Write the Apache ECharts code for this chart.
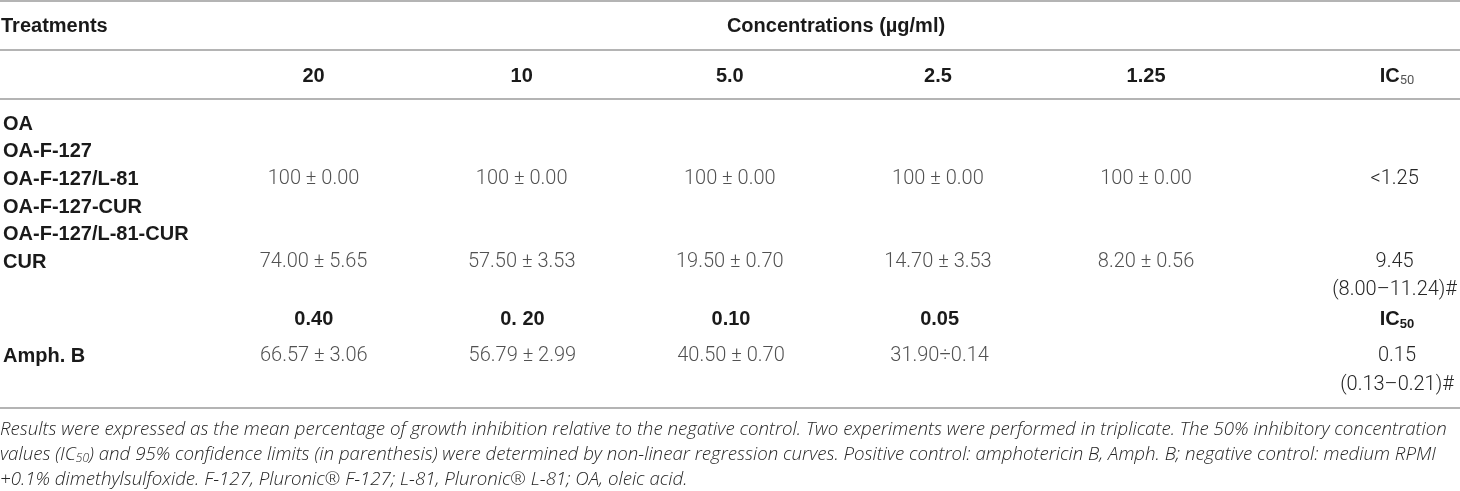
<!DOCTYPE html>
<html>
<head>
<meta charset="utf-8">
<script src="https://cdn.jsdelivr.net/npm/echarts@6/dist/echarts.min.js"></script>
<style>
  html, body { margin: 0; padding: 0; background: #fff; }
  #chart { width: 1460px; height: 491px; }
</style>
</head>
<body>
<div id="chart"></div>
<script>
// table values
const concentrations = ['20', '10', '5.0', '2.5', '1.25']
const treatments = ['OA', 'OA-F-127', 'OA-F-127/L-81', 'OA-F-127-CUR', 'OA-F-127/L-81-CUR', 'CUR']
const groupInhibition = ['100 ± 0.00', '100 ± 0.00', '100 ± 0.00', '100 ± 0.00', '100 ± 0.00']
const groupIC50 = '<1.25'
const curInhibition = ['74.00 ± 5.65', '57.50 ± 3.53', '19.50 ± 0.70', '14.70 ± 3.53', '8.20 ± 0.56']
const curIC50 = ['9.45', '(8.00–11.24)#']
const amphConcentrations = ['0.40', '0. 20', '0.10', '0.05']
const amphInhibition = ['66.57 ± 3.06', '56.79 ± 2.99', '40.50 ± 0.70', '31.90÷0.14']
const amphIC50 = ['0.15', '(0.13–0.21)#']
const footnote = [
  'Results were expressed as the mean percentage of growth inhibition relative to the negative control. Two experiments were performed in triplicate. The 50% inhibitory concentration',
  'values (IC{sub|50}) and 95% confidence limits (in parenthesis) were determined by non-linear regression curves. Positive control: amphotericin B, Amph. B; negative control: medium RPMI',
  '+0.1% dimethylsulfoxide. F-127, Pluronic® F-127; L-81, Pluronic® L-81; OA, oleic acid.'
]

const BOLD = 'Liberation Sans'
const LIGHT = 'Roboto'
const NOTE = 'Open Sans'
const INK = '#1a1a1a'
const SOFT = '#262626'
const RULE = '#b4b4b4'

// the five formulations share one result line, written on their middle row
const groupTreatments = treatments.slice(0, 5)
const groupRow = groupTreatments[Math.floor(groupTreatments.length / 2)]
const curRow = treatments[treatments.length - 1]

const rowsA = [...treatments, '']
const ic50A = rowsA.map((t) => t === groupRow ? groupIC50 : '')
ic50A[treatments.length - 1] = curIC50[0]
ic50A[treatments.length] = curIC50[1]

const rowsC = ['Amph. B', '']

const colLeft = 207.5
const colWidth = 1045

const rowLabel = {
  interval: 0, align: 'left', margin: colLeft - 1,
  fontFamily: BOLD, fontWeight: 'bold', fontSize: 20, color: INK
}
const ic50Label = {
  interval: 0, align: 'center', margin: 144.5,
  fontFamily: LIGHT, fontWeight: 300, fontSize: 20, color: SOFT
}
const headLabel = (margin) => ({
  interval: 0, margin: margin, verticalAlign: 'middle',
  fontFamily: BOLD, fontWeight: 'bold', fontSize: 20, color: INK
})
const hidden = { axisLine: { show: false }, axisTick: { show: false }, splitLine: { show: false } }

const cellSeries = (xi, yi, data) => ({
  type: 'scatter',
  xAxisIndex: xi,
  yAxisIndex: yi,
  symbolSize: 1,
  itemStyle: { color: 'rgba(0,0,0,0)' },
  silent: true,
  data: data,
  label: {
    show: true, position: 'inside',
    formatter: (p) => p.value[2],
    fontFamily: LIGHT, fontWeight: 300, fontSize: 20, color: SOFT
  }
})

const rule = (y) => ({
  type: 'line', silent: true,
  shape: { x1: 0, y1: y, x2: 1460, y2: y },
  style: { stroke: RULE, lineWidth: 1.8 }
})

const ic50Head = (y, subBold) => ({
  type: 'text', x: 1397, y: y, silent: true,
  style: {
    text: '{b|IC}{s|50}', align: 'center', verticalAlign: 'middle',
    rich: {
      b: { fontFamily: BOLD, fontWeight: 'bold', fontSize: 20, fill: INK },
      s: { fontFamily: subBold ? BOLD : LIGHT, fontWeight: subBold ? 'bold' : 400, fontSize: 13, fill: subBold ? INK : '#555', padding: [10, 0, 0, 0] }
    }
  }
})

const chart = echarts.init(document.getElementById('chart'))
chart.setOption({
  animation: false,
  grid: [
    { left: colLeft, width: colWidth, top: 110.2, height: 193.7 },
    { left: colLeft, width: colWidth, top: 341.5, height: 58 }
  ],
  xAxis: [
    { type: 'category', gridIndex: 0, position: 'top', data: concentrations, axisLabel: headLabel(34.2), ...hidden },
    { type: 'category', gridIndex: 1, position: 'top', data: [...amphConcentrations, ''], axisLabel: headLabel(22.5), ...hidden }
  ],
  yAxis: [
    { type: 'category', gridIndex: 0, inverse: true, data: rowsA, axisLabel: rowLabel, ...hidden },
    { type: 'category', gridIndex: 0, inverse: true, position: 'right', data: ic50A, axisLabel: ic50Label, ...hidden },
    { type: 'category', gridIndex: 1, inverse: true, data: rowsC, axisLabel: rowLabel, ...hidden },
    { type: 'category', gridIndex: 1, inverse: true, position: 'right', data: amphIC50, axisLabel: ic50Label, ...hidden }
  ],
  series: [
    cellSeries(0, 0, concentrations.map((c, i) => [c, groupRow, groupInhibition[i]])),
    cellSeries(0, 0, concentrations.map((c, i) => [c, curRow, curInhibition[i]])),
    cellSeries(1, 2, amphConcentrations.map((c, i) => [c, rowsC[0], amphInhibition[i]]))
  ],
  graphic: [
    rule(1), rule(50), rule(99), rule(408),
    {
      type: 'text', x: 1, y: 26, silent: true,
      style: { text: 'Treatments', verticalAlign: 'middle', fontFamily: BOLD, fontWeight: 'bold', fontSize: 20, fill: INK }
    },
    {
      type: 'text', x: 836, y: 26, silent: true,
      style: { text: 'Concentrations (µg/ml)', align: 'center', verticalAlign: 'middle', fontFamily: BOLD, fontWeight: 'bold', fontSize: 20, fill: INK }
    },
    ic50Head(76, false),
    ic50Head(319, true),
    ...footnote.map((line, i) => ({
      type: 'text', x: 0, y: 430 + i * 25, silent: true,
      style: {
        text: line,
        verticalAlign: 'middle',
        fontFamily: NOTE, fontStyle: 'italic', fontWeight: 300, fontSize: 18.7, fill: SOFT,
        rich: {
          sub: { fontFamily: NOTE, fontStyle: 'italic', fontWeight: 300, fontSize: 12, fill: SOFT, padding: [8, 0, 0, 0] }
        }
      }
    }))
  ]
})
</script>
</body>
</html>
